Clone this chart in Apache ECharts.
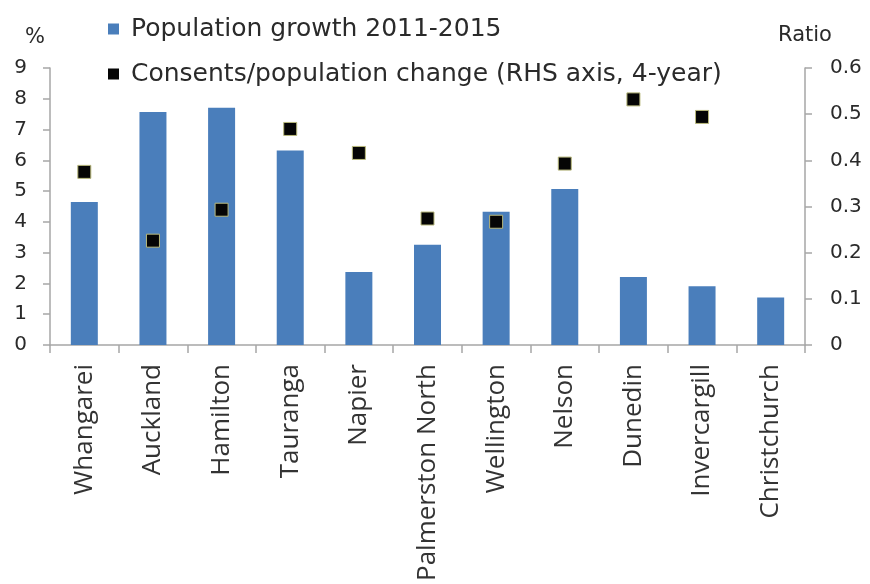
<!DOCTYPE html>
<html>
<head>
<meta charset="utf-8">
<script src="https://cdn.jsdelivr.net/npm/echarts@6/dist/echarts.min.js"></script>
<style>html,body{margin:0;padding:0;background:#fff;}#c{width:870px;height:584px;}</style>
</head>
<body>
<div id="c"></div>
<script>
const categories = ['Whangarei','Auckland','Hamilton','Tauranga','Napier','Palmerston North','Wellington','Nelson','Dunedin','Invercargill','Christchurch'];
const popGrowth = [4.65, 7.57, 7.71, 6.32, 2.37, 3.26, 4.33, 5.07, 2.21, 1.91, 1.54];
const consentsRatio = [0.375, 0.226, 0.293, 0.468, 0.416, 0.274, 0.267, 0.393, 0.532, 0.494, null];
const leftTicks = [0,1,2,3,4,5,6,7,8,9];
const rightTicks = ['0','0.1','0.2','0.3','0.4','0.5','0.6'];
const seriesNames = ['Population growth 2011-2015', 'Consents/population change (RHS axis, 4-year)'];

const chart = echarts.init(document.getElementById('c'), null, {renderer:'canvas'});
const axisColor = '#a6a6a6';
const txt = '#2a2a2a';
const legendStyle = {fontFamily:'DejaVu Sans', fontSize:25, color:txt, lineHeight:30, padding:[0,0,0,7]};
chart.setOption({
  animation:false,
  backgroundColor:'#fff',
  grid:{left:50, right:65, top:68, bottom:235, containLabel:false},
  legend:[
    {data:[{name:seriesNames[0], itemStyle:{color:'#4a7ebb', borderWidth:0}}], left:108, top:14, padding:0, itemWidth:11, itemHeight:11, icon:'rect', textStyle:legendStyle},
    {data:[{name:seriesNames[1], itemStyle:{color:'#050505', borderWidth:0, opacity:1}}], left:108, top:59, padding:0, itemWidth:11, itemHeight:11, icon:'rect', textStyle:legendStyle}
  ],
  xAxis:{
    type:'category', data:categories,
    axisLine:{lineStyle:{color:axisColor, width:1.5}},
    axisTick:{show:true, length:8, lineStyle:{color:axisColor, width:1.5}},
    axisLabel:{rotate:90, interval:0, margin:19, fontFamily:'Open Sans', fontSize:26, color:'#333'}
  },
  yAxis:[
    {type:'value', min:0, max:9, interval:1, name:'%', nameLocation:'end', nameGap:30,
     nameTextStyle:{fontFamily:'DejaVu Sans', fontSize:21, color:txt, align:'right', verticalAlign:'middle', padding:[0,5,0,0]},
     axisLine:{show:true, lineStyle:{color:axisColor, width:1.5}},
     axisTick:{show:true, length:7, lineStyle:{color:axisColor, width:1.5}},
     splitLine:{show:false},
     axisLabel:{margin:23, fontFamily:'DejaVu Sans', fontSize:20, color:txt,
       formatter:(v)=>{const i=leftTicks.indexOf(v); return i>=0?String(leftTicks[i]):'';}}},
    {type:'value', min:0, max:0.6, interval:0.1, name:'Ratio', nameLocation:'end', nameGap:32,
     nameTextStyle:{fontFamily:'DejaVu Sans', fontSize:21, color:txt, align:'center', verticalAlign:'middle'},
     axisLine:{show:true, lineStyle:{color:axisColor, width:1.5}},
     axisTick:{show:true, length:7, lineStyle:{color:axisColor, width:1.5}},
     splitLine:{show:false},
     axisLabel:{margin:25, fontFamily:'DejaVu Sans', fontSize:20, color:txt,
       formatter:(v)=>rightTicks[Math.round(v*10)]}}
  ],
  series:[
    {name:seriesNames[0], type:'bar', yAxisIndex:0, data:popGrowth, barWidth:27,
     itemStyle:{color:'#4a7ebb'}},
    {name:seriesNames[1], type:'scatter', yAxisIndex:1, data:consentsRatio, symbol:'rect', symbolSize:13,
     itemStyle:{color:'#050505', borderColor:'#b9b97c', borderWidth:1, opacity:1}, z:3}
  ]
});
</script>
</body>
</html>
